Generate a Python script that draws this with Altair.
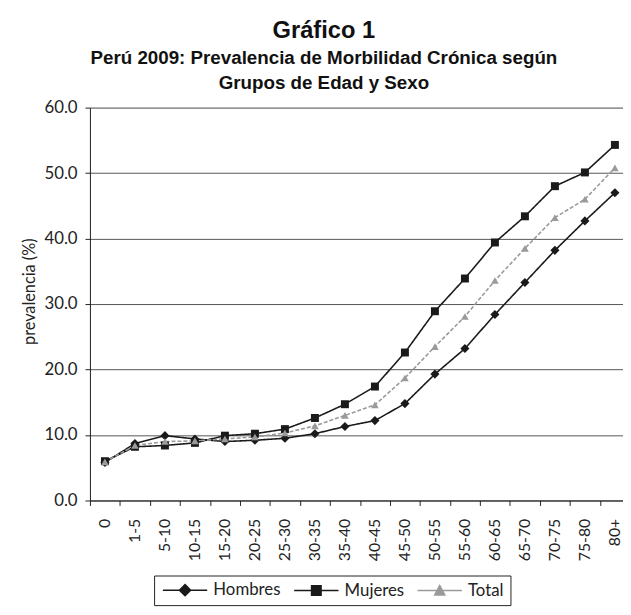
import altair as alt
import pandas as pd

grupos = ["0", "1-5", "5-10", "10-15", "15-20", "20-25", "25-30", "30-35", "35-40",
          "40-45", "45-50", "50-55", "55-60", "60-65", "65-70", "70-75", "75-80", "80+"]
hombres = [5.8, 8.7, 9.9, 9.4, 9.0, 9.2, 9.5, 10.2, 11.3, 12.2, 14.8, 19.3, 23.2, 28.4, 33.3, 38.2, 42.7, 47.0]
mujeres = [6.0, 8.2, 8.4, 8.8, 9.9, 10.2, 10.9, 12.6, 14.7, 17.4, 22.6, 28.9, 33.9, 39.4, 43.4, 48.0, 50.1, 54.3]
total = [5.9, 8.4, 9.0, 9.1, 9.4, 9.7, 10.3, 11.4, 13.0, 14.6, 18.7, 23.5, 28.1, 33.6, 38.5, 43.2, 46.0, 50.8]
series = ["Hombres", "Mujeres", "Total"]
y_ticks = [0, 10, 20, 30, 40, 50, 60]

rows = []
for s, vals in zip(series, [hombres, mujeres, total]):
    for g, v in zip(grupos, vals):
        rows.append({"grupo": g, "serie": s, "valor": v})
df = pd.DataFrame(rows)

colors = ["#1a1a1a", "#1a1a1a", "#9a9a9a"]
dashes = [[1, 0], [1, 0], [4, 2]]
marker_shapes = ["diamond", "square", "triangle-up"]
marker_sizes = [85, 65, 60]
leg_paths = [
    "M-1,0H7M3,-1L4,0L3,1L2,0Z",
    "M-1,0H7M2.15,-0.85H3.85V0.85H2.15Z",
    "M-1,0H7M3,-0.9L3.9,0.8H2.1Z",
]

x = alt.X("grupo:N", sort=grupos,
          scale=alt.Scale(type="band", domain=grupos, range=[0, 547], paddingInner=0, paddingOuter=0),
          axis=alt.Axis(title=None, labelAngle=270, tickBand="extent", grid=False,
                        labelFont="Lato", labelFontSize=16, labelColor="#222",
                        domainColor="#222", tickColor="#222", tickSize=5, labelPadding=13))
y = alt.Y("valor:Q", scale=alt.Scale(domain=[0, 60], nice=False),
          axis=alt.Axis(values=y_ticks, format=".1f", title="prevalencia (%)", grid=True,
                        gridColor="#555", gridWidth=1, domainColor="#222", tickColor="#222",
                        tickSize=5, labelFont="Lato", labelFontSize=17, labelColor="#222",
                        labelPadding=8, titleFont="Lato", titleFontSize=16.5, titleFontWeight="normal",
                        titleColor="#222", titlePadding=7, titleY=186))

legend_cfg = alt.Legend(title=None, orient="none", legendX=65, legendY=474,
                        direction="horizontal", strokeColor="#222", fillColor="white",
                        padding=6, labelFont="Lato", labelFontSize=17, labelColor="#222",
                        symbolSize=126, symbolStrokeWidth=1.6, labelOffset=37, columnPadding=9)

# legend layer first so its (enabled) legend leads the merge
legend_layer = alt.Chart(df).transform_filter("false").mark_point(
    filled=True, size=126, opacity=1, strokeWidth=1.6).encode(
    x=x, y=y,
    fill=alt.Fill("serie:N", scale=alt.Scale(domain=series, range=colors), legend=legend_cfg),
    stroke=alt.Stroke("serie:N", scale=alt.Scale(domain=series, range=colors), legend=legend_cfg),
    shape=alt.Shape("serie:N", scale=alt.Scale(domain=series, range=leg_paths), legend=legend_cfg),
)

layers = [legend_layer]
for s, c, d in zip(series, colors, dashes):
    layers.append(
        alt.Chart(df).transform_filter(alt.datum.serie == s).mark_line(
            strokeWidth=1.6, color=c, strokeDash=d).encode(x=x, y=y)
    )
for s, shp, sz, c in zip(series, marker_shapes, marker_sizes, colors):
    layers.append(
        alt.Chart(df).transform_filter(alt.datum.serie == s).mark_point(
            filled=True, size=sz, opacity=1, shape=shp, color=c).encode(x=x, y=y)
    )

chart = alt.layer(*layers).properties(
    width=540, height=398,
    autosize=alt.AutoSizeParams(type="none"),
    padding={"left": 83, "top": 97, "right": 0, "bottom": 104},
    title=alt.TitleParams(
        text="Gráfico 1",
        subtitle=["Perú 2009: Prevalencia de Morbilidad Crónica según", "Grupos de Edad y Sexo"],
        font="Liberation Sans", fontSize=24, fontWeight="bold", color="#111",
        subtitleFont="Liberation Sans", subtitleFontSize=19, subtitleFontWeight="bold",
        subtitleColor="#111", subtitleLineHeight=25, subtitlePadding=6,
        anchor="middle", dx=-33, offset=6,
    ),
).configure_view(strokeWidth=0).configure(background="white")

chart.save("out.html", embed_options={"renderer": "svg", "actions": False})
